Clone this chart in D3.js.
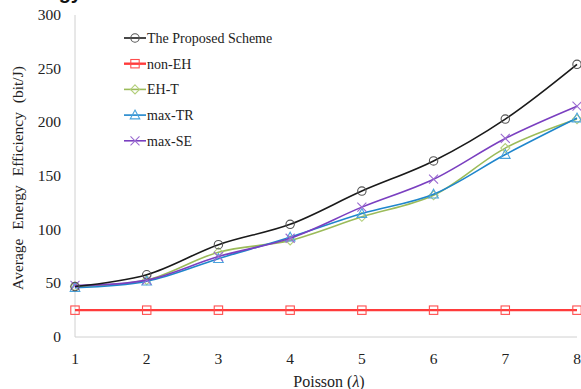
<!DOCTYPE html>
<html lang="en">
  <head>
    <meta charset="utf-8" />
    <title>Average Energy Efficiency vs Poisson</title>
    <script src="https://cdn.jsdelivr.net/npm/d3@7"></script>
    <style>
      body { margin: 0; background: #fff; }
      text { font-family: "Liberation Serif", "Times New Roman", serif; fill: #222; }
    </style>
  </head>
  <body>
    <div id="chart"></div>
    <script>
      let w = 581;
      let h = 389;

      // data
      let lambdas = [1, 2, 3, 4, 5, 6, 7, 8];
      let proposed = [47, 58, 86, 105, 136, 164, 203, 254];
      let nonEH = [25, 25, 25, 25, 25, 25, 25, 25];
      let ehT = [47, 53, 79, 90, 112, 132, 176, 203];
      let maxTR = [46, 52, 73, 93, 115, 133, 170, 204];
      let maxSE = [48, 53, 75, 92, 121, 147, 185, 215];
      let yTicks = [0, 50, 100, 150, 200, 250, 300];

      let series = [
        { name: "The Proposed Scheme", values: proposed, color: "#1a1a1a", mark: "circle", mcolor: "#555", width: 1.6 },
        { name: "non-EH", values: nonEH, color: "#ff3b3b", mark: "square", mcolor: "#ff4d4d", width: 2.4 },
        { name: "EH-T", values: ehT, color: "#9bbb59", mark: "diamond", mcolor: "#b3cf7a", width: 1.6 },
        { name: "max-TR", values: maxTR, color: "#1f86cc", mark: "triangle", mcolor: "#4aa3dc", width: 1.6 },
        { name: "max-SE", values: maxSE, color: "#7a3fc0", mark: "cross", mcolor: "#9a6ad0", width: 1.6 },
      ];

      let svg = d3
        .select("#chart")
        .append("svg")
        .attr("width", w)
        .attr("height", h);

      let x = d3.scaleLinear().domain([1, 8]).range([75, 577]);
      let y = d3.scaleLinear().domain([0, 300]).range([337, 15]);

      // cropped title remnant at the top
      svg.append("text")
        .attr("x", 82)
        .attr("y", -1)
        .attr("text-anchor", "end")
        .style("font-family", "Arial, sans-serif")
        .style("font-weight", "bold")
        .style("font-size", "20px")
        .style("fill", "#111")
        .text("Energy");

      // axes lines
      svg.append("line")
        .attr("x1", x(1)).attr("x2", x(1))
        .attr("y1", y(300)).attr("y2", y(0))
        .attr("stroke", "#d0d0d0");
      svg.append("line")
        .attr("x1", x(1)).attr("x2", x(8))
        .attr("y1", y(0)).attr("y2", y(0))
        .attr("stroke", "#d0d0d0");

      // y tick labels
      svg.selectAll(".ytick")
        .data(yTicks)
        .join("text")
        .attr("class", "ytick")
        .attr("x", 61)
        .attr("y", function (d) { return y(d) + 5; })
        .attr("text-anchor", "end")
        .style("font-size", "15.5px")
        .text(function (d) { return d; });

      // x tick labels
      svg.selectAll(".xtick")
        .data(lambdas)
        .join("text")
        .attr("class", "xtick")
        .attr("x", function (d) { return x(d); })
        .attr("y", 364)
        .attr("text-anchor", "middle")
        .style("font-size", "15.5px")
        .text(function (d) { return d; });

      // axis titles
      let xt = svg.append("text")
        .attr("x", 329)
        .attr("y", 387)
        .attr("text-anchor", "middle")
        .style("font-size", "16px");
      xt.append("tspan").text("Poisson (");
      xt.append("tspan").style("font-style", "italic").text("λ");
      xt.append("tspan").text(")");

      svg.append("text")
        .attr("transform", "translate(23,178) rotate(-90)")
        .attr("text-anchor", "middle")
        .style("font-size", "15.5px")
        .style("word-spacing", "5px")
        .text("Average Energy Efficiency (bit/J)");

      let line = d3.line()
        .x(function (d, i) { return x(lambdas[i]); })
        .y(function (d) { return y(d); })
        .curve(d3.curveCatmullRom.alpha(0.5));

      function drawMark(g, type, color, cx, cy) {
        if (type === "circle") {
          g.append("circle").attr("cx", cx).attr("cy", cy).attr("r", 4.2)
            .attr("fill", "none").attr("stroke", color).attr("stroke-width", 1.1);
        } else if (type === "square") {
          g.append("rect").attr("x", cx - 4.2).attr("y", cy - 4.2).attr("width", 8.4).attr("height", 8.4)
            .attr("fill", "none").attr("stroke", color).attr("stroke-width", 1.1);
        } else if (type === "diamond") {
          g.append("path")
            .attr("d", `M${cx},${cy - 4.5}L${cx + 4.5},${cy}L${cx},${cy + 4.5}L${cx - 4.5},${cy}Z`)
            .attr("fill", "none").attr("stroke", color).attr("stroke-width", 1.1);
        } else if (type === "triangle") {
          g.append("path")
            .attr("d", `M${cx},${cy - 5}L${cx + 4.8},${cy + 3.8}L${cx - 4.8},${cy + 3.8}Z`)
            .attr("fill", "none").attr("stroke", color).attr("stroke-width", 1.1);
        } else if (type === "cross") {
          g.append("path")
            .attr("d", `M${cx - 4.5},${cy - 4.5}L${cx + 4.5},${cy + 4.5}M${cx - 4.5},${cy + 4.5}L${cx + 4.5},${cy - 4.5}`)
            .attr("fill", "none").attr("stroke", color).attr("stroke-width", 1.1);
        }
      }

      // draw series, non-EH first so the others lie on top
      let order = [1, 2, 3, 4, 0];
      order.forEach(function (k) {
        let s = series[k];
        let g = svg.append("g");
        g.append("path")
          .datum(s.values)
          .attr("d", line)
          .attr("fill", "none")
          .attr("stroke", s.color)
          .attr("stroke-width", s.width);
        s.values.forEach(function (v, i) {
          drawMark(g, s.mark, s.mcolor, x(lambdas[i]), y(v));
        });
      });

      // legend
      let legend = svg.append("g");
      series.forEach(function (s, i) {
        let ly = 38 + i * 25.7;
        legend.append("line")
          .attr("x1", 124).attr("x2", 146)
          .attr("y1", ly).attr("y2", ly)
          .attr("stroke", s.color)
          .attr("stroke-width", s.width);
        drawMark(legend, s.mark, s.mcolor, 135, ly);
        legend.append("text")
          .attr("x", 147)
          .attr("y", ly + 4.8)
          .style("font-size", "14px")
          .text(s.name);
      });
    </script>
  </body>
</html>
